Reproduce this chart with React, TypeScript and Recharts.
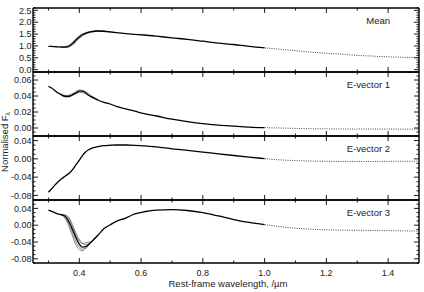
import React from 'react';
import { LineChart, Line, XAxis, YAxis } from 'recharts';

// wavelength grid (µm)
const lam = [0.30, 0.31, 0.32, 0.33, 0.34, 0.35, 0.36, 0.37, 0.38, 0.39, 0.40, 0.41, 0.42, 0.43, 0.44, 0.45, 0.46, 0.48, 0.50, 0.52, 0.55, 0.58, 0.61, 0.65, 0.70, 0.75, 0.80, 0.85, 0.90, 0.95, 1.00];
const lamTail = [1.00, 1.05, 1.10, 1.15, 1.20, 1.25, 1.30, 1.35, 1.40, 1.45, 1.50];

// Mean
const meanMain = [0.98, 0.98, 0.97, 0.96, 0.95, 0.95, 0.96, 1.02, 1.12, 1.26, 1.38, 1.47, 1.53, 1.57, 1.60, 1.62, 1.63, 1.62, 1.59, 1.56, 1.52, 1.49, 1.46, 1.41, 1.34, 1.28, 1.20, 1.12, 1.06, 0.98, 0.92];
const meanTail = [0.92, 0.86, 0.80, 0.74, 0.69, 0.65, 0.60, 0.57, 0.54, 0.52, 0.50];
const meanVarLam = [0.34, 0.36, 0.38, 0.40, 0.42, 0.44, 0.46, 0.50];
const meanVarA = [0.96, 0.99, 1.18, 1.43, 1.56, 1.62, 1.64, 1.59];
const meanVarB = [0.96, 0.94, 1.06, 1.32, 1.50, 1.58, 1.62, 1.59];

// E-vector 1
const ev1Main = [0.052, 0.050, 0.047, 0.044, 0.042, 0.040, 0.0395, 0.040, 0.042, 0.044, 0.046, 0.046, 0.044, 0.041, 0.039, 0.037, 0.035, 0.032, 0.030, 0.027, 0.024, 0.021, 0.018, 0.015, 0.011, 0.008, 0.0055, 0.0037, 0.0024, 0.0012, 0.0004];
const ev1Tail = [0.0004, 0.0, -0.0005, -0.0009, -0.0011, -0.0012, -0.0013, -0.0013, -0.0014, -0.0014, -0.0014];
const ev1VarLam = [0.34, 0.36, 0.38, 0.40, 0.42, 0.44, 0.46];
const ev1VarA = [0.042, 0.0405, 0.0435, 0.0475, 0.0455, 0.040, 0.035];
const ev1VarB = [0.041, 0.0385, 0.041, 0.0445, 0.043, 0.038, 0.035];

// E-vector 2
const ev2Main = [-0.073, -0.066, -0.058, -0.051, -0.045, -0.040, -0.035, -0.030, -0.022, -0.012, -0.003, 0.007, 0.015, 0.020, 0.023, 0.025, 0.027, 0.029, 0.0298, 0.0303, 0.0303, 0.0297, 0.0285, 0.026, 0.022, 0.0185, 0.0148, 0.011, 0.0073, 0.0038, 0.0005];
const ev2Tail = [0.0005, -0.0022, -0.0038, -0.0048, -0.0054, -0.0057, -0.0058, -0.0057, -0.0055, -0.0053, -0.0052];

// E-vector 3
const ev3Main = [0.036, 0.033, 0.030, 0.027, 0.025, 0.023, 0.016, 0.003, -0.014, -0.031, -0.045, -0.052, -0.051, -0.046, -0.039, -0.031, -0.024, -0.008, 0.001, 0.009, 0.017, 0.027, 0.032, 0.036, 0.037, 0.035, 0.030, 0.022, 0.0135, 0.0065, 0.0015];
const ev3Tail = [0.0015, -0.0035, -0.0072, -0.0095, -0.011, -0.0118, -0.0122, -0.0126, -0.013, -0.0135, -0.014];
const ev3VarLam = [0.34, 0.35, 0.36, 0.37, 0.38, 0.39, 0.40, 0.41, 0.42, 0.43, 0.44, 0.46];
const ev3VarA = [0.025, 0.020, 0.008, -0.010, -0.030, -0.048, -0.058, -0.061, -0.056, -0.048, -0.040, -0.024];
const ev3VarB = [0.025, 0.022, 0.012, -0.004, -0.022, -0.040, -0.052, -0.057, -0.054, -0.047, -0.039, -0.024];
const ev3VarC = [0.026, 0.025, 0.023, 0.014, -0.003, -0.020, -0.034, -0.043, -0.046, -0.044, -0.039, -0.024];
const ev3VarD = [0.025, 0.024, 0.021, 0.010, -0.008, -0.026, -0.038, -0.044, -0.042, -0.040, -0.039, -0.024];

// ticks
const xMajor = [0.4, 0.6, 0.8, 1.0, 1.2, 1.4];
const xMinor = [0.3, 0.5, 0.7, 0.9, 1.1, 1.3];
const y1Major = [0.0, 0.5, 1.0, 1.5, 2.0, 2.5];
const y2Major = [0.00, 0.02, 0.04, 0.06];
const y3Major = [-0.08, -0.04, 0.00, 0.04];
const y4Major = [-0.08, -0.04, 0.00, 0.04];

const FONT = '"Liberation Sans", Arial, Helvetica, sans-serif';
const TXT = '#222';
const PLOT_W = 386;

function steps(lo: number, hi: number, st: number): number[] {
  const out: number[] = [];
  const n = Math.round((hi - lo) / st);
  for (let i = 0; i <= n; i++) out.push(Math.round((lo + i * st) * 100000) / 100000);
  return out;
}

const pts = (xs: number[], ys: number[]) => xs.map((x, i) => ({ x, y: ys[i] }));
const isIn = (arr: number[], v: number) => arr.some((m) => Math.abs(m - v) < 1e-7);

function yTick(major: number[], decimals: number) {
  return (props: any) => {
    const { x, y, payload } = props;
    const v = payload.value as number;
    const maj = isIn(major, v);
    const len = maj ? 5 : 2.5;
    const xr = x + PLOT_W;
    return (
      <g>
        <path d={`M${x},${y}L${x + len},${y}M${xr},${y}L${xr - len},${y}`} stroke="#000" strokeWidth={0.9} fill="none" />
        {maj ? (
          <text x={x - 1.5} y={y} dy="0.35em" textAnchor="end" fontSize={9} fill={TXT} fontFamily={FONT}>
            {(Math.abs(v) < 1e-9 ? 0 : v).toFixed(decimals)}
          </text>
        ) : null}
      </g>
    );
  };
}

function xTick(plotH: number, showLabel: boolean) {
  return (props: any) => {
    const { x, y, payload } = props;
    const v = payload.value as number;
    const maj = isIn(xMajor, v);
    const len = maj ? 5 : 2.5;
    const yt = y - plotH;
    return (
      <g>
        <path d={`M${x},${y}L${x},${y - len}M${x},${yt}L${x},${yt + len}`} stroke="#000" strokeWidth={0.9} fill="none" />
        {showLabel && maj ? (
          <text x={x} y={y + 13.3} textAnchor="middle" fontSize={9} fill={TXT} fontFamily={FONT}>
            {v.toFixed(1)}
          </text>
        ) : null}
      </g>
    );
  };
}

type Pt = { x: number; y: number };

interface PanelProps {
  top: number;
  plotH: number;
  bottomExtra: number;
  domain: [number, number];
  major: number[];
  minorStep: number;
  decimals: number;
  main: Pt[];
  tail: Pt[];
  variants: Pt[][];
  showXLabels: boolean;
}

const X_TICKS = [...xMajor, ...xMinor].sort((a, b) => a - b);
const AXIS_LINE = { stroke: '#000', strokeWidth: 1.4 };

function Panel(p: PanelProps) {
  const yTicks = steps(
    Math.ceil(p.domain[0] / p.minorStep - 1e-6) * p.minorStep,
    Math.floor(p.domain[1] / p.minorStep + 1e-6) * p.minorStep,
    p.minorStep
  );
  const mTop = 3;
  const mBottom = p.bottomExtra - 1;
  return (
    <div style={{ position: 'absolute', left: 0, top: p.top - 4 }}>
      <LineChart width={424} height={p.plotH + 4 + p.bottomExtra} margin={{ top: mTop, right: 0, bottom: mBottom, left: 0 }}>
        <XAxis
          dataKey="x"
          type="number"
          domain={[0.25, 1.5]}
          allowDataOverflow
          ticks={X_TICKS}
          interval={0}
          height={1}
          tickSize={0}
          tickMargin={0}
          tickLine={false}
          axisLine={AXIS_LINE}
          tick={xTick(p.plotH, p.showXLabels)}
        />
        <XAxis
          xAxisId="top"
          orientation="top"
          type="number"
          domain={[0.25, 1.5]}
          allowDataOverflow
          height={1}
          tick={false}
          tickLine={false}
          axisLine={AXIS_LINE}
        />
        <YAxis
          type="number"
          domain={p.domain}
          allowDataOverflow
          ticks={yTicks}
          interval={0}
          width={33}
          tickSize={0}
          tickMargin={0}
          tickLine={false}
          axisLine={AXIS_LINE}
          tick={yTick(p.major, p.decimals)}
        />
        <YAxis
          yAxisId="r"
          orientation="right"
          type="number"
          domain={p.domain}
          allowDataOverflow
          width={5}
          tick={false}
          tickLine={false}
          axisLine={AXIS_LINE}
        />
        {p.variants.map((v, i) => (
          <Line key={'v' + i} data={v} dataKey="y" type="monotone" stroke="#555" strokeWidth={0.7} dot={false} isAnimationActive={false} />
        ))}
        <Line data={p.main} dataKey="y" type="monotone" stroke="#000" strokeWidth={1.3} dot={false} isAnimationActive={false} />
        <Line data={p.tail} dataKey="y" type="monotone" stroke="#333" strokeWidth={0.9} strokeDasharray="1 1.3" dot={false} isAnimationActive={false} />
      </LineChart>
    </div>
  );
}

const panelLabels = ['Mean', 'E-vector 1', 'E-vector 2', 'E-vector 3'];
const panelTops = [8, 72, 136, 200];

export default function App() {
  return (
    <div style={{ position: 'absolute', left: 0, top: 0, width: 424, height: 292, background: '#fff', overflow: 'hidden' }}>
      <Panel top={8} plotH={64} bottomExtra={4} domain={[-0.1, 2.6]} major={y1Major} minorStep={0.1} decimals={1}
        main={pts(lam, meanMain)} tail={pts(lamTail, meanTail)}
        variants={[pts(meanVarLam, meanVarA), pts(meanVarLam, meanVarB)]} showXLabels={false} />
      <Panel top={72} plotH={64} bottomExtra={4} domain={[-0.01, 0.07]} major={y2Major} minorStep={0.005} decimals={2}
        main={pts(lam, ev1Main)} tail={pts(lamTail, ev1Tail)}
        variants={[pts(ev1VarLam, ev1VarA), pts(ev1VarLam, ev1VarB)]} showXLabels={false} />
      <Panel top={136} plotH={64} bottomExtra={4} domain={[-0.09, 0.05]} major={y3Major} minorStep={0.01} decimals={2}
        main={pts(lam, ev2Main)} tail={pts(lamTail, ev2Tail)} variants={[]} showXLabels={false} />
      <Panel top={200} plotH={63} bottomExtra={29} domain={[-0.09, 0.06]} major={y4Major} minorStep={0.01} decimals={2}
        main={pts(lam, ev3Main)} tail={pts(lamTail, ev3Tail)}
        variants={[pts(ev3VarLam, ev3VarA), pts(ev3VarLam, ev3VarB), pts(ev3VarLam, ev3VarC), pts(ev3VarLam, ev3VarD)]}
        showXLabels={true} />
      <svg width={424} height={292} style={{ position: 'absolute', left: 0, top: 0, pointerEvents: 'none' }}>
        {panelLabels.map((t, i) => (
          <text key={t} x={390} y={panelTops[i] + 15.5} textAnchor="end" fontSize={9.5} fill={TXT} fontFamily={FONT}>
            {t}
          </text>
        ))}
        <text x={228} y={286.5} textAnchor="middle" fontSize={9.5} fill={TXT} fontFamily={FONT}>
          Rest-frame wavelength, /µm
        </text>
        <text x={7.5} y={142} transform="rotate(-90 7.5 142)" textAnchor="middle" fontSize={9.5} fill={TXT} fontFamily={FONT}>
          Normalised F
          <tspan fontSize={6.5} dy={2}>λ</tspan>
        </text>
      </svg>
    </div>
  );
}
